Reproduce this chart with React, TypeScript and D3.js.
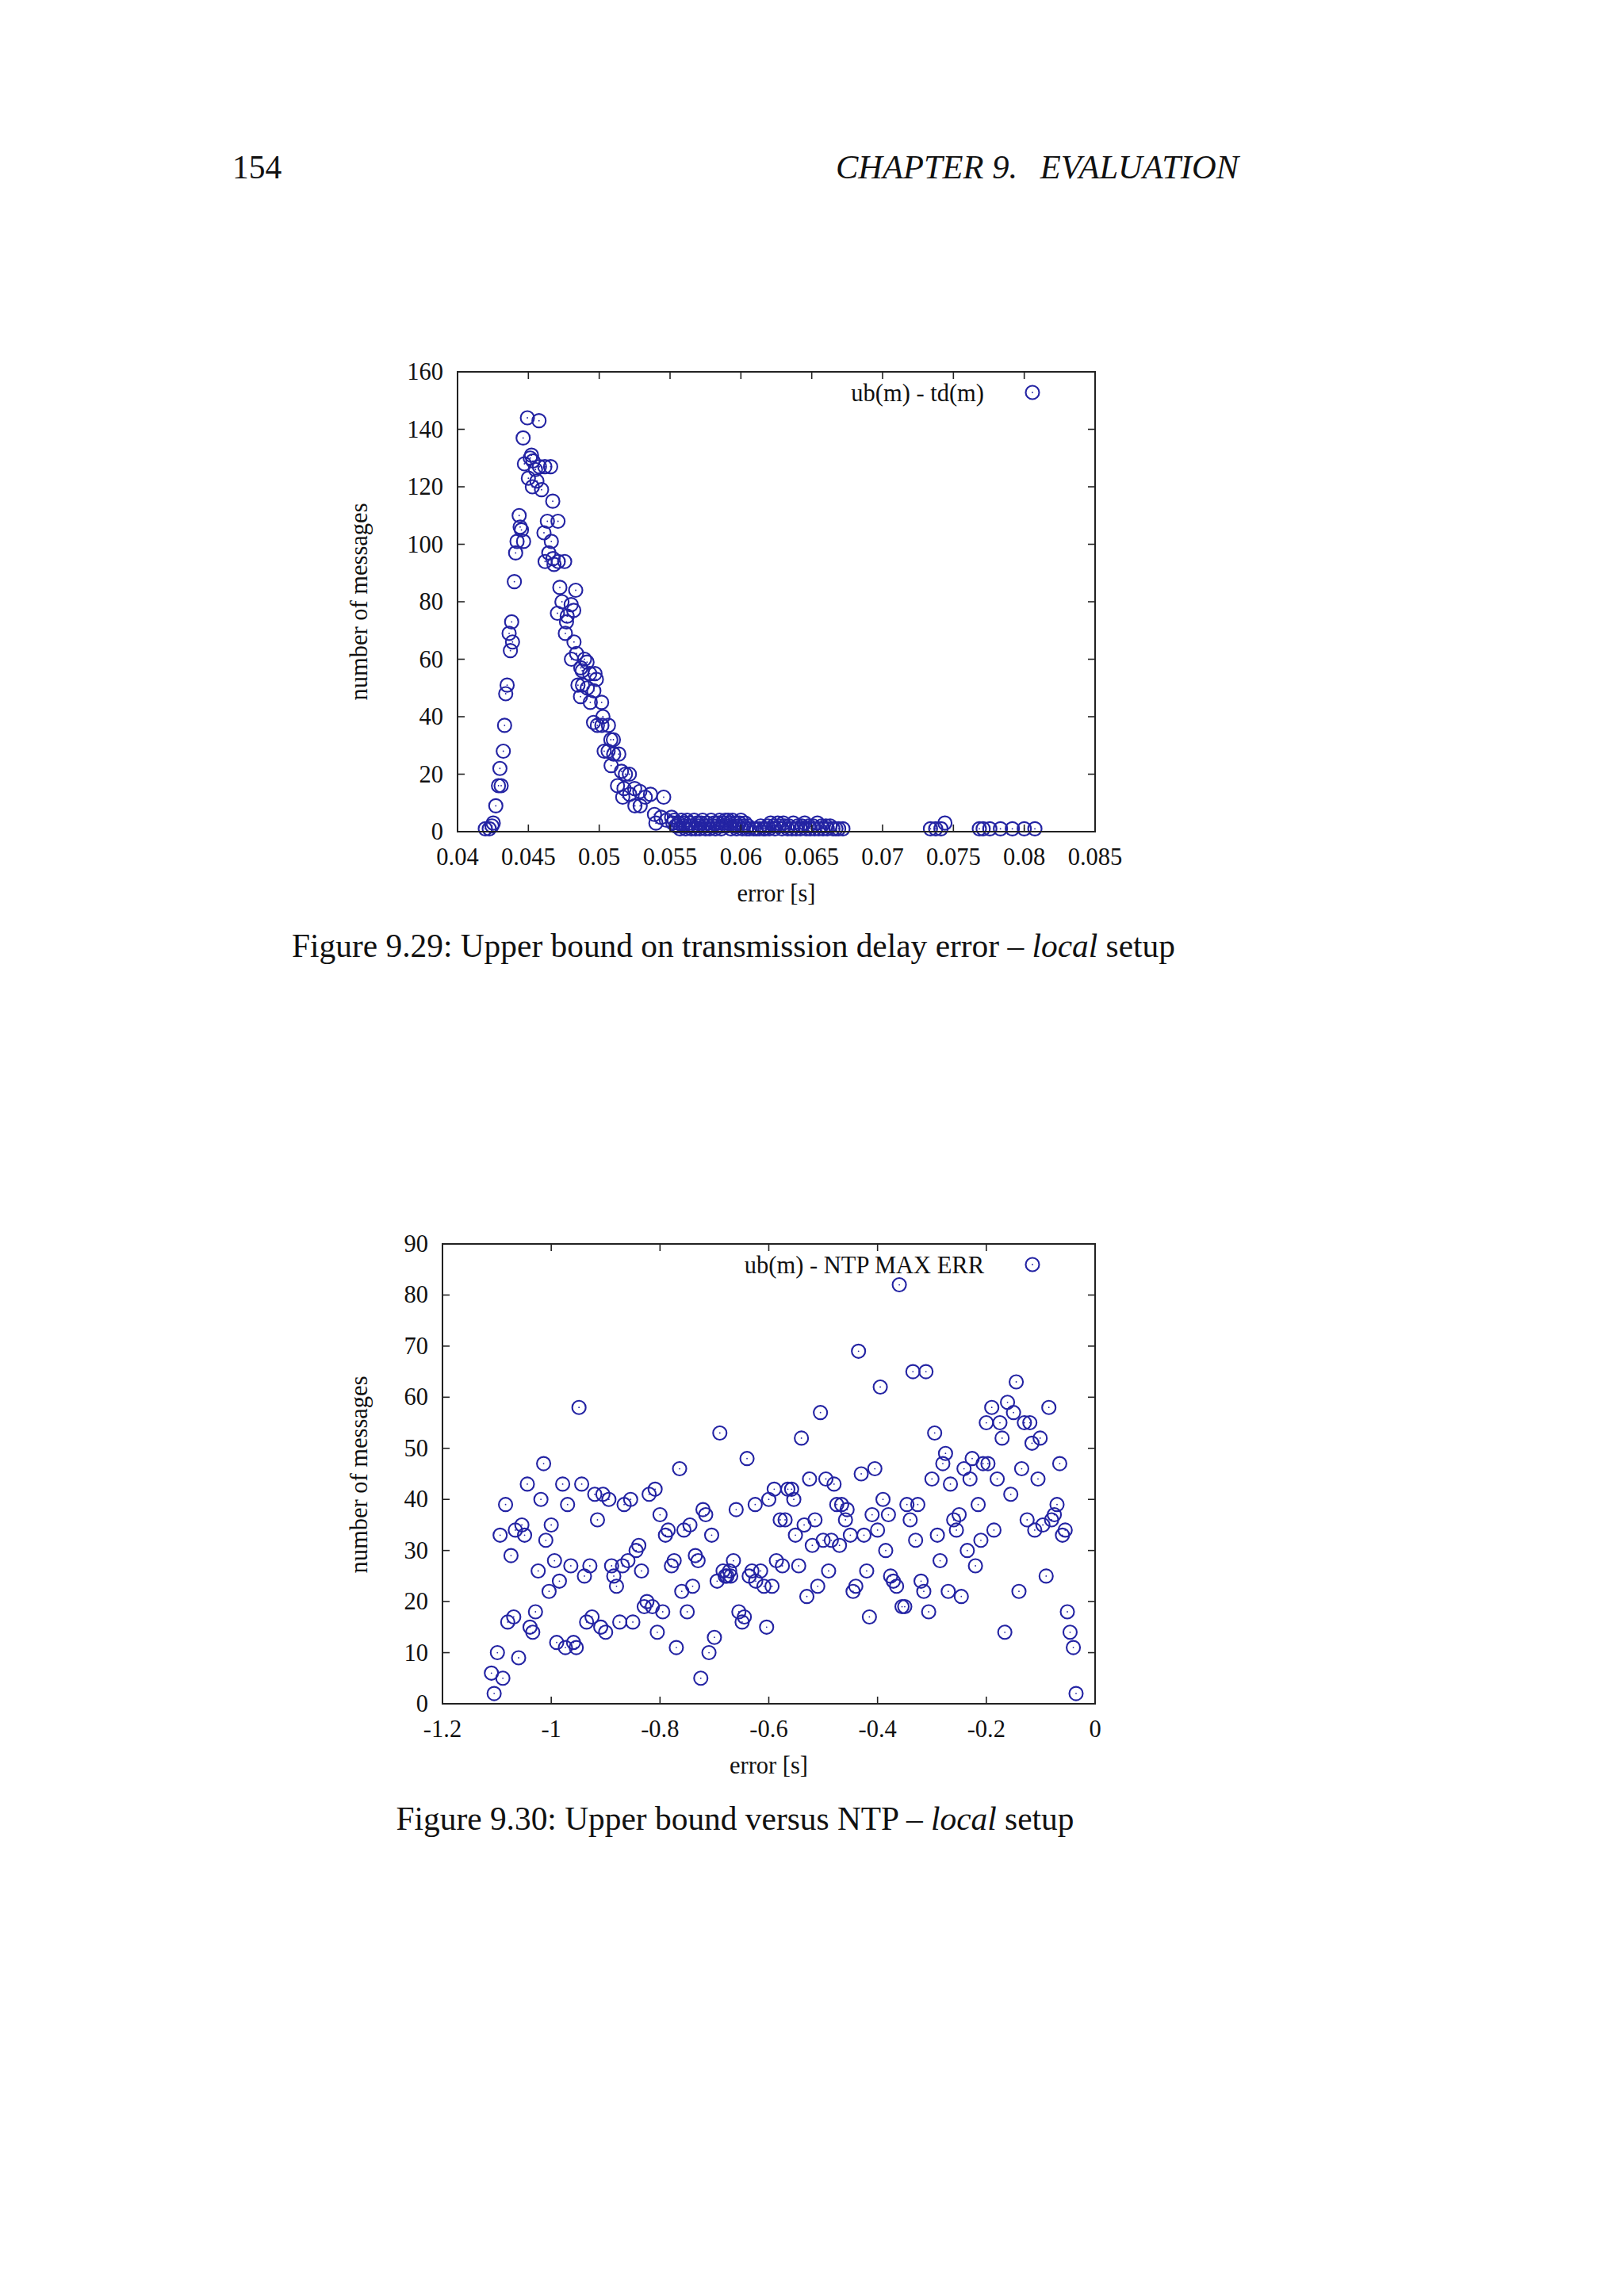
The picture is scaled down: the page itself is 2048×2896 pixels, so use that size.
import React from 'react';
import * as d3 from 'd3';

const FONT = '"Liberation Serif", "Times New Roman", Times, serif';
const BLUE = '#2323a3';

// ---------- Figure 9.29 : ub(m) - td(m) ----------
const tdXTicks = [0.04, 0.045, 0.05, 0.055, 0.06, 0.065, 0.07, 0.075, 0.08, 0.085];
const tdXTickLabels = ['0.04', '0.045', '0.05', '0.055', '0.06', '0.065', '0.07', '0.075', '0.08', '0.085'];
const tdYTicks = [0, 20, 40, 60, 80, 100, 120, 140, 160];

const tdRise: [number, number][] = [
  [0.04196, 1], [0.04224, 1], [0.04243, 2], [0.04252, 3], [0.0427, 9], [0.04289, 16], [0.04299, 22],
  [0.04308, 16], [0.04323, 28], [0.04332, 37], [0.0434, 48], [0.0435, 51], [0.04364, 69], [0.04373, 63],
  [0.04382, 73], [0.04388, 66], [0.04401, 87], [0.0441, 97], [0.0442, 101], [0.04435, 110], [0.04442, 106],
  [0.04451, 105], [0.04463, 137], [0.04466, 101], [0.04472, 128], [0.04493, 144], [0.045, 123],
  [0.04513, 130], [0.04522, 131], [0.04528, 120], [0.04532, 129], [0.0455, 126], [0.0456, 122],
  [0.04575, 143], [0.04578, 127], [0.04593, 119],
];

const tdDecay: [number, number][] = [
  [0.0461, 104], [0.04616, 127], [0.04618, 94], [0.04634, 108], [0.04644, 97], [0.04657, 127],
  [0.04662, 101], [0.04672, 115], [0.04674, 95], [0.04681, 93], [0.04705, 76], [0.04709, 108],
  [0.04711, 94], [0.04722, 85], [0.04737, 80], [0.04756, 94], [0.04761, 69], [0.04769, 73], [0.04774, 75],
  [0.04802, 79], [0.04804, 60], [0.0482, 77], [0.04822, 66], [0.04834, 84], [0.0484, 62], [0.0485, 51],
  [0.04868, 47], [0.0487, 57], [0.0488, 56], [0.04882, 51], [0.04896, 60], [0.04914, 59], [0.04916, 50],
  [0.04933, 55], [0.04937, 45], [0.0496, 38], [0.04962, 49], [0.0497, 55], [0.0498, 53], [0.04987, 37],
  [0.05017, 45], [0.05019, 37], [0.05026, 40], [0.05035, 28], [0.05063, 28], [0.05065, 37], [0.05082, 32],
  [0.05084, 23], [0.051, 32], [0.05102, 27], [0.05138, 27], [0.05129, 16], [0.05157, 21], [0.05166, 12],
  [0.05175, 15], [0.05185, 20], [0.05213, 20], [0.05215, 13], [0.0525, 15], [0.05252, 9], [0.05287, 14],
  [0.05289, 9], [0.05325, 12], [0.05362, 13], [0.0539, 6], [0.054, 3], [0.05437, 5], [0.05455, 12],
  [0.05474, 4], [0.05511, 5], [0.0552, 3], [0.0555, 2],
];

const tdTail: [number, number][] = [
  [0.0553, 4], [0.0554, 2], [0.0556, 3], [0.0557, 1], [0.0558, 4], [0.0559, 2], [0.056, 3], [0.0561, 1],
  [0.0562, 4], [0.0563, 2], [0.0564, 3], [0.0565, 1], [0.0566, 2], [0.0567, 4], [0.0568, 1], [0.0569, 3],
  [0.057, 2], [0.0571, 1], [0.0572, 3], [0.0573, 4], [0.0574, 2], [0.0575, 1], [0.0576, 3], [0.0577, 2],
  [0.0578, 1], [0.0579, 4], [0.058, 2], [0.0581, 3], [0.0582, 1], [0.0583, 2], [0.0584, 3], [0.0585, 4],
  [0.0586, 1], [0.0587, 2], [0.0588, 3], [0.0589, 4], [0.059, 2], [0.0591, 4], [0.0592, 3], [0.0593, 1],
  [0.0594, 4], [0.0595, 2], [0.0596, 3], [0.0597, 1], [0.0598, 2], [0.0599, 3], [0.06, 4], [0.0601, 1],
  [0.0602, 2], [0.0603, 3], [0.0604, 1], [0.0605, 2], [0.0606, 1], [0.0609, 1], [0.0611, 1], [0.0613, 1],
  [0.0614, 2], [0.0616, 1], [0.0617, 1], [0.0619, 2], [0.062, 1], [0.0621, 3], [0.0623, 2], [0.0624, 1],
  [0.0626, 3], [0.0627, 2], [0.0629, 1], [0.063, 3], [0.0631, 2], [0.0633, 1], [0.0634, 2], [0.0636, 1],
  [0.0637, 3], [0.0639, 1], [0.064, 2], [0.0642, 1], [0.0643, 2], [0.0645, 3], [0.0646, 1], [0.0648, 2],
  [0.0649, 1], [0.0651, 2], [0.0652, 1], [0.0654, 3], [0.0655, 1], [0.0657, 2], [0.0658, 1], [0.066, 2],
  [0.0661, 1], [0.0663, 2], [0.0665, 1], [0.0667, 1], [0.0669, 1], [0.0672, 1],
];

const tdOutliers: [number, number][] = [
  [0.07338, 1], [0.07375, 1], [0.07412, 1], [0.0744, 3], [0.07683, 1], [0.0771, 1], [0.07757, 1],
  [0.07832, 1], [0.07916, 1], [0.08, 1], [0.08075, 1],
];

// ---------- Figure 9.30 : ub(m) - NTP MAX ERR ----------
const ntpXTicks = [-1.2, -1, -0.8, -0.6, -0.4, -0.2, 0];
const ntpXTickLabels = ['-1.2', '-1', '-0.8', '-0.6', '-0.4', '-0.2', '0'];
const ntpYTicks = [0, 10, 20, 30, 40, 50, 60, 70, 80, 90];

const ntpLeft: [number, number][] = [
  [-1.014, 47], [-0.949, 58], [-1.044, 43], [-0.979, 43], [-0.944, 43], [-1.084, 39], [-1.019, 40],
  [-0.97, 39], [-0.92, 41], [-0.905, 41], [-0.894, 40], [-0.866, 39], [-0.854, 40], [-0.82, 41],
  [-0.809, 42], [-0.915, 36], [-0.8, 37], [-1.094, 33], [-1.066, 34], [-1.054, 35], [-1.049, 33],
  [-1.0, 35], [-1.01, 32], [-1.074, 29], [-0.994, 28], [-1.024, 26], [-0.964, 27], [-0.929, 27],
  [-0.939, 25], [-0.985, 24], [-1.004, 22], [-0.889, 27], [-0.885, 25], [-0.88, 23], [-0.869, 27],
  [-0.859, 28], [-0.844, 30], [-0.839, 31], [-0.834, 26], [-0.79, 33], [-0.785, 34], [-0.756, 34],
  [-0.745, 35], [-0.779, 27], [-0.774, 28], [-0.735, 29], [-0.73, 28], [-0.76, 22], [-0.74, 23],
  [-1.08, 16], [-1.069, 17], [-1.029, 18], [-1.039, 15], [-1.034, 14], [-0.99, 12], [-0.974, 11],
  [-0.959, 12], [-0.954, 11], [-0.935, 16], [-0.925, 17], [-0.909, 15], [-0.9, 14], [-0.874, 16],
  [-0.85, 16], [-0.829, 19], [-0.824, 20], [-0.814, 19], [-0.795, 18], [-0.805, 14], [-0.75, 18],
  [-0.77, 11], [-1.099, 10], [-1.06, 9], [-1.11, 6], [-1.089, 5], [-1.105, 2], [-0.764, 46],
];

const ntpMiddle: [number, number][] = [
  [-0.69, 53], [-0.64, 48], [-0.721, 38], [-0.716, 37], [-0.705, 33], [-0.66, 38], [-0.625, 39],
  [-0.695, 24], [-0.684, 26], [-0.677, 25], [-0.672, 26], [-0.67, 25], [-0.68, 25], [-0.665, 28],
  [-0.636, 25], [-0.631, 26], [-0.624, 24], [-0.615, 26], [-0.609, 23], [-0.594, 23], [-0.7, 13],
  [-0.71, 10], [-0.725, 5], [-0.655, 18], [-0.645, 17], [-0.649, 16], [-0.604, 15], [-0.59, 42],
  [-0.565, 42], [-0.558, 42], [-0.6, 40], [-0.554, 40], [-0.579, 36], [-0.57, 36], [-0.586, 28],
  [-0.575, 27], [-0.545, 27], [-0.551, 33], [-0.535, 35], [-0.515, 36], [-0.525, 44], [-0.495, 44],
  [-0.48, 43], [-0.505, 57], [-0.54, 52], [-0.52, 31], [-0.5, 32], [-0.485, 32], [-0.47, 31],
  [-0.49, 26], [-0.51, 23], [-0.53, 21], [-0.475, 39], [-0.466, 39], [-0.456, 38], [-0.459, 36],
  [-0.45, 33], [-0.44, 23], [-0.445, 22],
];

const ntpRight: [number, number][] = [
  [-0.36, 82], [-0.435, 69], [-0.335, 65], [-0.311, 65], [-0.395, 62], [-0.145, 63], [-0.161, 59],
  [-0.19, 58], [-0.15, 57], [-0.085, 58], [-0.2, 55], [-0.175, 55], [-0.13, 55], [-0.12, 55],
  [-0.171, 52], [-0.101, 52], [-0.116, 51], [-0.295, 53], [-0.275, 49], [-0.28, 47], [-0.226, 48],
  [-0.241, 46], [-0.206, 47], [-0.197, 47], [-0.135, 46], [-0.065, 47], [-0.405, 46], [-0.43, 45],
  [-0.3, 44], [-0.266, 43], [-0.23, 44], [-0.18, 44], [-0.105, 44], [-0.155, 41], [-0.39, 40],
  [-0.346, 39], [-0.326, 39], [-0.215, 39], [-0.07, 39], [-0.41, 37], [-0.38, 37], [-0.34, 36],
  [-0.26, 36], [-0.25, 37], [-0.255, 34], [-0.125, 36], [-0.096, 35], [-0.111, 34], [-0.08, 36],
  [-0.075, 37], [-0.055, 34], [-0.06, 33], [-0.186, 34], [-0.4, 34], [-0.425, 33], [-0.29, 33],
  [-0.33, 32], [-0.21, 32], [-0.385, 30], [-0.235, 30], [-0.285, 28], [-0.22, 27], [-0.42, 26],
  [-0.09, 25], [-0.376, 25], [-0.371, 24], [-0.365, 23], [-0.32, 24], [-0.315, 22], [-0.27, 22],
  [-0.246, 21], [-0.14, 22], [-0.355, 19], [-0.35, 19], [-0.306, 18], [-0.415, 17], [-0.166, 14],
  [-0.051, 18], [-0.046, 14], [-0.04, 11], [-0.035, 2],
];

type Pt = [number, number];

interface PlotProps {
  left: number; right: number; top: number; bottom: number;
  xDomain: [number, number]; yDomain: [number, number];
  xTicks: number[]; xTickLabels: string[]; yTicks: number[];
  points: Pt[]; legend: string; yLabelX: number; yLabelY: number;
  xTitleY: number; tickLabelGap: number;
}

function ScatterPlot(p: PlotProps) {
  const x = d3.scaleLinear().domain(p.xDomain).range([p.left, p.right]);
  const y = d3.scaleLinear().domain(p.yDomain).range([p.bottom, p.top]);
  const tl = 9;
  const fs = 30.5;
  return (
    <g>
      {p.points.map((d, i) => (
        <g key={i}>
          <circle cx={x(d[0])} cy={y(d[1])} r={8.5} fill="none" stroke={BLUE} strokeWidth={2.1} />
          <circle cx={x(d[0])} cy={y(d[1])} r={0.9} fill={BLUE} />
        </g>
      ))}
      {p.xTicks.map((t, i) => (
        <g key={'xt' + i}>
          <line x1={x(t)} x2={x(t)} y1={p.bottom} y2={p.bottom - tl} stroke="#222" strokeWidth={1.6} />
          <line x1={x(t)} x2={x(t)} y1={p.top} y2={p.top + tl} stroke="#222" strokeWidth={1.6} />
          <text x={x(t)} y={p.bottom + 42} textAnchor="middle" fontFamily={FONT} fontSize={fs} fill="#111">
            {p.xTickLabels[i]}
          </text>
        </g>
      ))}
      {p.yTicks.map((t, i) => (
        <g key={'yt' + i}>
          <line x1={p.left} x2={p.left + tl} y1={y(t)} y2={y(t)} stroke="#222" strokeWidth={1.6} />
          <line x1={p.right} x2={p.right - tl} y1={y(t)} y2={y(t)} stroke="#222" strokeWidth={1.6} />
          <text x={p.left - p.tickLabelGap} y={y(t) + 10} textAnchor="end" fontFamily={FONT} fontSize={fs} fill="#111">
            {String(t)}
          </text>
        </g>
      ))}
      <rect x={p.left} y={p.top} width={p.right - p.left} height={p.bottom - p.top} fill="none" stroke="#222" strokeWidth={2} />
      <text x={p.right - 140} y={p.top + 37} textAnchor="end" fontFamily={FONT} fontSize={fs} fill="#111">
        {p.legend}
      </text>
      <circle cx={p.right - 79} cy={p.top + 26} r={8.5} fill="none" stroke={BLUE} strokeWidth={2.1} />
      <circle cx={p.right - 79} cy={p.top + 26} r={0.9} fill={BLUE} />
      <text x={(p.left + p.right) / 2} y={p.xTitleY} textAnchor="middle" fontFamily={FONT} fontSize={fs} fill="#111">
        error [s]
      </text>
      <text
        transform={`translate(${p.yLabelX},${p.yLabelY}) rotate(-90)`}
        textAnchor="middle"
        fontFamily={FONT}
        fontSize={fs}
        fill="#111"
      >
        number of messages
      </text>
    </g>
  );
}

export default function App() {
  const tdPoints: Pt[] = [...tdRise, ...tdDecay, ...tdTail, ...tdOutliers];
  const ntpPoints: Pt[] = [...ntpLeft, ...ntpMiddle, ...ntpRight];
  return (
    <svg
      width={2048}
      height={2896}
      viewBox="0 0 2048 2896"
      style={{ position: 'absolute', left: 0, top: 0, display: 'block', background: '#fff' }}
    >
      <rect x={0} y={0} width={2048} height={2896} fill="#fff" />
      <text x={293} y={225} fontFamily={FONT} fontSize={41.5} fill="#111">154</text>
      <text x={1054} y={225} fontFamily={FONT} fontSize={42.5} fontStyle="italic" fill="#111">
        CHAPTER 9.
      </text>
      <text x={1562} y={225} textAnchor="end" fontFamily={FONT} fontSize={42.5} fontStyle="italic" fill="#111">
        EVALUATION
      </text>

      <ScatterPlot
        left={577} right={1381} top={469} bottom={1049}
        xDomain={[0.04, 0.085]} yDomain={[0, 160]}
        xTicks={tdXTicks} xTickLabels={tdXTickLabels} yTicks={tdYTicks}
        points={tdPoints} legend="ub(m) - td(m)"
        yLabelX={463} yLabelY={759} xTitleY={1137} tickLabelGap={18}
      />
      <text x={925} y={1207} textAnchor="middle" fontFamily={FONT} fontSize={41.4} fill="#111">
        Figure 9.29: Upper bound on transmission delay error – <tspan fontStyle="italic">local</tspan> setup
      </text>

      <ScatterPlot
        left={558} right={1381} top={1569} bottom={2149}
        xDomain={[-1.2, 0]} yDomain={[0, 90]}
        xTicks={ntpXTicks} xTickLabels={ntpXTickLabels} yTicks={ntpYTicks}
        points={ntpPoints} legend="ub(m) - NTP MAX ERR"
        yLabelX={463} yLabelY={1860} xTitleY={2237} tickLabelGap={18}
      />
      <text x={927} y={2308} textAnchor="middle" fontFamily={FONT} fontSize={41.4} fill="#111">
        Figure 9.30: Upper bound versus NTP – <tspan fontStyle="italic">local</tspan> setup
      </text>
    </svg>
  );
}
